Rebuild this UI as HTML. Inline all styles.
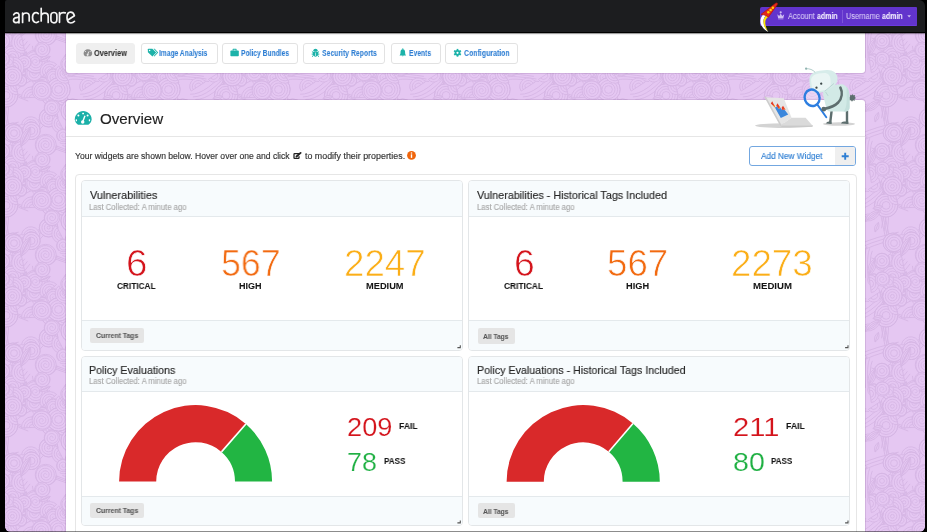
<!DOCTYPE html>
<html><head><meta charset="utf-8"><title>Anchore Overview</title>
<style>
*{margin:0;padding:0;box-sizing:border-box}
html,body{width:927px;height:532px;overflow:hidden;background:#000}
body{position:relative;font-family:"Liberation Sans",sans-serif}
.abs{position:absolute}
.screen{position:absolute;left:5px;top:20px;width:920px;height:512px;border-radius:6px;overflow:hidden;background:#e3c5ef}
.nav{position:absolute;left:5px;top:0;width:920px;height:33.2px;background:#1c1d1f;border-radius:2px 6px 0 0;border-bottom:1.4px solid #000;box-shadow:0 1px 1.2px rgba(0,0,0,.45)}
.panel{position:absolute;background:#fff;box-shadow:0 0 0 1px rgba(120,80,140,.18)}
.btn{position:absolute;top:42.5px;height:21px;border:1px solid #e2e2e2;border-radius:3px;background:#fff}
.t{position:absolute;white-space:nowrap;transform-origin:0 0;will-change:transform;font-family:"Liberation Sans",sans-serif}
.outer{position:absolute;left:74.5px;top:174.2px;width:782px;height:400px;border:1px solid #e6e6e6;border-radius:4px}
.w{position:absolute;width:382px;height:170.5px;border:1px solid #e3e6e8;border-radius:4px;background:#fff;overflow:hidden}
.w .hd{position:absolute;left:0;top:0;right:0;height:35.5px;background:#f7fbfd;border-bottom:1px solid #e4e9ec}
.w .ft{position:absolute;left:0;bottom:0;right:0;height:29.8px;background:#f7fbfd;border-top:1px solid #e4e9ec}
.tag{position:absolute;height:15.7px;background:#e5e5e5;border-radius:2px}
</style></head><body>
<div class="screen"></div>
<svg class="abs" style="left:5px;top:20px" width="920" height="512"><defs><pattern id="pt" width="110" height="110" patternUnits="userSpaceOnUse"><rect width="110" height="110" fill="#e5c7f2"/><g fill="none" stroke="#d6b5e4" stroke-width="0.9"><path d="M18.1,75.9 Q-2.6,70.8 -6.3,48.1"/><path d="M128.1,75.9 Q107.4,70.8 103.7,48.1"/><path d="M20.7,78.5 Q-0.0,73.4 -3.7,50.7"/><path d="M130.7,78.5 Q110.0,73.4 106.3,50.7"/><path d="M23.3,81.1 Q2.6,76.0 -1.1,53.3"/><path d="M133.3,81.1 Q112.6,76.0 108.9,53.3"/><path d="M88.9,56.4 Q58.5,52.0 58.0,55.4"/><path d="M91.5,59.0 Q61.1,54.6 60.6,58.0"/><path d="M94.1,61.6 Q63.7,57.2 63.2,60.6"/><path d="M64.4,7.6 Q60.6,-20.9 72.8,-22.0"/><path d="M64.4,117.6 Q60.6,89.1 72.8,88.0"/><path d="M67.0,10.2 Q63.2,-18.3 75.4,-19.4"/><path d="M67.0,120.2 Q63.2,91.7 75.4,90.6"/><path d="M69.6,12.8 Q65.8,-15.7 78.0,-16.8"/><path d="M69.6,122.8 Q65.8,94.3 78.0,93.2"/><path d="M-0.3,81.3 Q0.0,61.8 28.3,52.7"/><path d="M109.7,81.3 Q110.0,61.8 138.3,52.7"/><path d="M2.3,83.9 Q2.6,64.4 30.9,55.3"/><path d="M4.9,86.5 Q5.2,67.0 33.5,57.9"/><path d="M54.7,12.7 Q60.7,17.2 87.4,2.6"/><path d="M57.3,15.3 Q63.3,19.8 90.0,5.2"/><path d="M59.9,17.9 Q65.9,22.4 92.6,7.8"/><path d="M13.7,-7.9 Q-9.5,-2.8 -23.4,3.3"/><path d="M13.7,102.1 Q-9.5,107.2 -23.4,113.3"/><path d="M123.7,-7.9 Q100.5,-2.8 86.6,3.3"/><path d="M123.7,102.1 Q100.5,107.2 86.6,113.3"/><path d="M16.3,-5.3 Q-6.9,-0.2 -20.8,5.9"/><path d="M16.3,104.7 Q-6.9,109.8 -20.8,115.9"/><path d="M126.3,-5.3 Q103.1,-0.2 89.2,5.9"/><path d="M126.3,104.7 Q103.1,109.8 89.2,115.9"/><path d="M18.9,-2.7 Q-4.3,2.4 -18.2,8.5"/><path d="M18.9,107.3 Q-4.3,112.4 -18.2,118.5"/><path d="M128.9,-2.7 Q105.7,2.4 91.8,8.5"/><path d="M128.9,107.3 Q105.7,112.4 91.8,118.5"/><path d="M20.6,4.1 Q39.2,-16.2 41.1,-19.0"/><path d="M20.6,114.1 Q39.2,93.8 41.1,91.0"/><path d="M23.2,6.7 Q41.8,-13.6 43.7,-16.4"/><path d="M23.2,116.7 Q41.8,96.4 43.7,93.6"/><path d="M25.8,9.3 Q44.4,-11.0 46.3,-13.8"/><path d="M25.8,119.3 Q44.4,99.0 46.3,96.2"/><path d="M-3.4,98.3 Q-0.3,83.2 -2.1,54.3"/><path d="M106.6,98.3 Q109.7,83.2 107.9,54.3"/><path d="M-0.8,100.9 Q2.3,85.8 0.5,56.9"/><path d="M109.2,100.9 Q112.3,85.8 110.5,56.9"/><path d="M1.8,103.5 Q4.9,88.4 3.1,59.5"/><path d="M13.5,52.4 Q33.2,50.7 27.4,25.8"/><path d="M16.1,55.0 Q35.8,53.3 30.0,28.4"/><path d="M18.7,57.6 Q38.4,55.9 32.6,31.0"/><path d="M45.1,40.2 Q43.4,42.0 12.0,50.6"/><path d="M47.7,42.8 Q46.0,44.6 14.6,53.2"/><path d="M50.3,45.4 Q48.6,47.2 17.2,55.8"/><path d="M3.0,10.3 Q-2.1,-14.4 -7.0,-38.6"/><path d="M3.0,120.3 Q-2.1,95.6 -7.0,71.4"/><path d="M113.0,10.3 Q107.9,-14.4 103.0,-38.6"/><path d="M113.0,120.3 Q107.9,95.6 103.0,71.4"/><path d="M5.6,12.9 Q0.5,-11.8 -4.4,-36.0"/><path d="M5.6,122.9 Q0.5,98.2 -4.4,74.0"/><path d="M115.6,12.9 Q110.5,-11.8 105.6,-36.0"/><path d="M115.6,122.9 Q110.5,98.2 105.6,74.0"/><path d="M8.2,15.5 Q3.1,-9.2 -1.8,-33.4"/><path d="M8.2,125.5 Q3.1,100.8 -1.8,76.6"/><path d="M118.2,15.5 Q113.1,-9.2 108.2,-33.4"/><path d="M118.2,125.5 Q113.1,100.8 108.2,76.6"/><path d="M60.5,-27.7 Q65.8,-4.2 67.6,11.9"/><path d="M60.5,82.3 Q65.8,105.8 67.6,121.9"/><path d="M63.1,-25.1 Q68.4,-1.6 70.2,14.5"/><path d="M63.1,84.9 Q68.4,108.4 70.2,124.5"/><path d="M65.7,-22.5 Q71.0,1.0 72.8,17.1"/><path d="M65.7,87.5 Q71.0,111.0 72.8,127.1"/><path d="M19.9,18.7 Q1.3,41.3 -8.0,58.0"/><path d="M129.9,18.7 Q111.3,41.3 102.0,58.0"/><path d="M22.5,21.3 Q3.9,43.9 -5.4,60.6"/><path d="M132.5,21.3 Q113.9,43.9 104.6,60.6"/><path d="M25.1,23.9 Q6.5,46.5 -2.8,63.2"/><path d="M135.1,23.9 Q116.5,46.5 107.2,63.2"/><path d="M33.7,11.4 Q62.8,16.7 75.3,29.5"/><path d="M36.3,14.0 Q65.4,19.3 77.9,32.1"/><path d="M38.9,16.6 Q68.0,21.9 80.5,34.7"/><path d="M-34.8,74.3 Q-17.9,74.5 4.5,45.2"/><path d="M75.2,74.3 Q92.1,74.5 114.5,45.2"/><path d="M-32.2,76.9 Q-15.3,77.1 7.1,47.8"/><path d="M77.8,76.9 Q94.7,77.1 117.1,47.8"/><path d="M-29.6,79.5 Q-12.7,79.7 9.7,50.4"/><path d="M80.4,79.5 Q97.3,79.7 119.7,50.4"/><path d="M-4.2,65.0 Q5.9,44.9 23.4,40.0"/><path d="M105.8,65.0 Q115.9,44.9 133.4,40.0"/><path d="M-1.6,67.6 Q8.5,47.5 26.0,42.6"/><path d="M108.4,67.6 Q118.5,47.5 136.0,42.6"/><path d="M1.0,70.2 Q11.1,50.1 28.6,45.2"/><path d="M111.0,70.2 Q121.1,50.1 138.6,45.2"/><path d="M-13.6,17.9 Q15.1,26.9 27.3,36.9"/><path d="M96.4,17.9 Q125.1,26.9 137.3,36.9"/><path d="M-11.0,20.5 Q17.7,29.5 29.9,39.5"/><path d="M99.0,20.5 Q127.7,29.5 139.9,39.5"/><path d="M-8.4,23.1 Q20.3,32.1 32.5,42.1"/><path d="M101.6,23.1 Q130.3,32.1 142.5,42.1"/><path d="M92.1,5.7 Q88.8,12.0 90.5,37.9"/><path d="M94.7,8.3 Q91.4,14.6 93.1,40.5"/><path d="M97.3,10.9 Q94.0,17.2 95.7,43.1"/><circle cx="7.6" cy="37.2" r="11.3" fill="#e5c7f2"/><circle cx="7.6" cy="37.2" r="11.3"/><circle cx="7.6" cy="37.2" r="8.7"/><circle cx="7.6" cy="37.2" r="6.1"/><circle cx="7.6" cy="37.2" r="3.5"/><circle cx="117.6" cy="37.2" r="11.3" fill="#e5c7f2"/><circle cx="117.6" cy="37.2" r="11.3"/><circle cx="117.6" cy="37.2" r="8.7"/><circle cx="117.6" cy="37.2" r="6.1"/><circle cx="117.6" cy="37.2" r="3.5"/><path fill="#e5c7f2" d="M75.3,52.9 A6.8,6.8 0 0 1 88.8,52.5 Z"/><path d="M77.9,52.8 A4.2,4.2 0 0 1 86.2,52.6"/><path d="M80.5,52.7 A1.6,1.6 0 0 1 83.6,52.6"/><circle cx="57.8" cy="80.1" r="5.2" fill="#e5c7f2"/><circle cx="57.8" cy="80.1" r="5.2"/><circle cx="57.8" cy="80.1" r="2.6"/><circle cx="98.9" cy="40.2" r="6.1" fill="#e5c7f2"/><path d="M96.1,34.2 L97.8,33.8 L99.5,33.8 L101.1,34.3 L102.5,35.1 L103.6,36.3 L104.4,37.7 L104.8,39.2 L104.7,40.7 L104.3,42.2 L103.5,43.4 L102.5,44.4 L101.2,45.1 L99.9,45.4 L98.5,45.4 L97.2,45.0 L96.1,44.3 L95.2,43.3 L94.7,42.2 L94.4,41.0 L94.4,39.8 L94.8,38.7 L95.4,37.8 L96.2,37.0 L97.2,36.5 L98.2,36.3 L99.3,36.4 L100.2,36.7 L101.0,37.2 L101.6,38.0 L102.0,38.8 L102.2,39.7 L102.1,40.5 L101.8,41.3 L101.4,41.9 L100.8,42.4 L100.1,42.7 L99.4,42.9 L98.7,42.8 L98.1,42.5 L97.6,42.1 L97.2,41.7 L97.0,41.1 L97.0,40.6 L97.0,40.1 L97.3,39.6 L97.6,39.3 L97.9,39.0 L98.3,38.9 L98.7,38.9 L99.0,39.0 L99.3,39.2 L99.5,39.4 L99.6,39.6 L99.7,39.9 L99.6,40.1 L99.5,40.3"/><circle cx="66.1" cy="46.9" r="9.1" fill="#e5c7f2"/><path d="M60.6,38.9 L62.9,37.9 L65.3,37.5 L67.8,37.7 L70.1,38.5 L72.0,39.9 L73.5,41.7 L74.5,43.8 L74.9,46.1 L74.7,48.4 L73.9,50.5 L72.6,52.3 L70.9,53.7 L69.0,54.6 L66.9,55.0 L64.8,54.8 L62.8,54.0 L61.1,52.9 L59.8,51.3 L59.0,49.5 L58.7,47.5 L58.9,45.6 L59.6,43.8 L60.7,42.3 L62.1,41.1 L63.8,40.3 L65.6,40.1 L67.3,40.3 L68.9,40.9 L70.3,41.9 L71.4,43.2 L72.1,44.7 L72.3,46.3 L72.1,47.9 L71.5,49.4 L70.6,50.6 L69.4,51.6 L68.1,52.2 L66.6,52.4 L65.2,52.2 L63.9,51.7 L62.8,50.8 L62.0,49.8 L61.5,48.6 L61.3,47.3 L61.5,46.0 L61.9,44.9 L62.7,44.0 L63.6,43.2 L64.7,42.8 L65.8,42.7 L66.9,42.8 L67.8,43.3 L68.6,43.9 L69.2,44.7 L69.6,45.6 L69.7,46.6 L69.5,47.5 L69.2,48.3 L68.6,48.9 L67.9,49.4 L67.2,49.7 L66.4,49.8 L65.7,49.6 L65.0,49.3 L64.5,48.8 L64.1,48.3 L63.9,47.7 L63.9,47.1 L64.1,46.5 L64.3,46.0 L64.7,45.6 L65.1,45.4 L65.6,45.3 L66.0,45.3 L66.4,45.4 L66.7,45.6 L67.0,45.9 L67.1,46.2 L67.1,46.5 L67.1,46.8 L67.0,47.0 L66.8,47.2 L66.6,47.3"/><path fill="#e5c7f2" d="M37.7,64.6 A6.9,6.9 0 0 1 30.1,53.0 Z"/><path d="M36.2,62.4 A4.3,4.3 0 0 1 31.5,55.1"/><path d="M34.8,60.2 A1.7,1.7 0 0 1 32.9,57.3"/><circle cx="1.1" cy="75.4" r="11.7" fill="#e5c7f2"/><circle cx="1.1" cy="75.4" r="11.7"/><circle cx="1.1" cy="75.4" r="9.1"/><circle cx="1.1" cy="75.4" r="6.5"/><circle cx="1.1" cy="75.4" r="3.9"/><circle cx="111.1" cy="75.4" r="11.7" fill="#e5c7f2"/><circle cx="111.1" cy="75.4" r="11.7"/><circle cx="111.1" cy="75.4" r="9.1"/><circle cx="111.1" cy="75.4" r="6.5"/><circle cx="111.1" cy="75.4" r="3.9"/><path fill="#e5c7f2" d="M22.7,33.7 Q30.8,31.0 35.5,38.0 Q27.4,40.8 22.7,33.7 Z"/><path fill="none" d="M24.8,34.4 Q29.6,34.4 33.4,37.3 Q28.6,37.4 24.8,34.4 Z"/><path d="M22.7,33.7 L35.5,38.0"/><circle cx="46.3" cy="75.1" r="10.3" fill="#e5c7f2"/><circle cx="46.3" cy="75.1" r="10.3"/><circle cx="46.3" cy="75.1" r="7.7"/><circle cx="46.3" cy="75.1" r="5.1"/><circle cx="46.3" cy="75.1" r="2.5"/><circle cx="14.7" cy="10.4" r="5.7" fill="#e5c7f2"/><circle cx="14.7" cy="10.4" r="5.7"/><circle cx="14.7" cy="10.4" r="3.1"/><circle cx="70.6" cy="86.5" r="5.5" fill="#e5c7f2"/><circle cx="70.6" cy="86.5" r="5.5"/><circle cx="70.6" cy="86.5" r="2.9"/><circle cx="72.1" cy="13.9" r="8.8" fill="#e5c7f2"/><path d="M80.6,9.9 L81.2,12.3 L81.2,14.7 L80.6,17.0 L79.4,19.0 L77.8,20.7 L75.8,21.8 L73.6,22.4 L71.4,22.4 L69.2,21.8 L67.3,20.7 L65.8,19.2 L64.8,17.3 L64.3,15.3 L64.3,13.2 L64.8,11.3 L65.8,9.6 L67.3,8.2 L69.0,7.2 L70.8,6.7 L72.7,6.8 L74.5,7.3 L76.1,8.2 L77.3,9.5 L78.2,11.1 L78.6,12.8 L78.6,14.5 L78.1,16.1 L77.3,17.5 L76.1,18.7 L74.7,19.4 L73.1,19.8 L71.6,19.8 L70.1,19.3 L68.9,18.5 L67.9,17.5 L67.2,16.2 L66.9,14.8 L66.9,13.5 L67.3,12.2 L68.0,11.1 L68.9,10.2 L70.1,9.6 L71.3,9.3 L72.5,9.4 L73.6,9.7 L74.6,10.4 L75.3,11.2 L75.8,12.2 L76.0,13.2 L76.0,14.3 L75.6,15.2 L75.1,16.0 L74.4,16.6 L73.5,17.0 L72.7,17.2 L71.8,17.1 L71.0,16.9 L70.4,16.4 L69.9,15.8 L69.6,15.1 L69.4,14.4 L69.5,13.7 L69.8,13.1 L70.2,12.6 L70.6,12.2 L71.2,12.0 L71.7,11.9 L72.3,12.0 L72.7,12.2 L73.1,12.5 L73.3,12.9 L73.4,13.3 L73.4,13.7 L73.3,14.0 L73.2,14.3 L72.9,14.5 L72.7,14.6 L72.4,14.7 L72.2,14.6 L72.0,14.5"/><circle cx="43.6" cy="97.7" r="9.3" fill="#e5c7f2"/><circle cx="43.6" cy="97.7" r="9.3"/><circle cx="43.6" cy="97.7" r="6.7"/><circle cx="43.6" cy="97.7" r="4.1"/><circle cx="43.6" cy="97.7" r="1.5"/><path fill="#e5c7f2" d="M21.4,31.7 Q27.9,42.5 19.0,51.5 Q12.6,40.6 21.4,31.7 Z"/><path fill="none" d="M21.2,33.8 Q24.2,42.0 19.3,49.3 Q16.2,41.1 21.2,33.8 Z"/><path d="M21.4,31.7 L19.0,51.5"/><path fill="#e5c7f2" d="M76.1,71.1 A8.5,8.5 0 0 1 90.4,61.8 Z"/><path d="M78.3,69.7 A5.9,5.9 0 0 1 88.3,63.2"/><path d="M80.5,68.2 A3.3,3.3 0 0 1 86.1,64.6"/><circle cx="85.2" cy="87.0" r="5.1" fill="#e5c7f2"/><path d="M83.1,81.7 L84.5,81.5 L86.0,81.6 L87.3,82.1 L88.4,82.9 L89.3,83.9 L89.8,85.2 L90.0,86.4 L89.9,87.7 L89.4,88.8 L88.7,89.8 L87.8,90.6 L86.8,91.0 L85.6,91.2 L84.6,91.1 L83.6,90.7 L82.7,90.0 L82.1,89.2 L81.7,88.3 L81.6,87.4 L81.7,86.5 L82.1,85.6 L82.6,85.0 L83.3,84.5 L84.1,84.2 L84.8,84.1 L85.6,84.2 L86.2,84.5 L86.8,85.0 L87.2,85.5 L87.4,86.1 L87.4,86.7 L87.3,87.3 L87.0,87.8 L86.7,88.2 L86.2,88.4 L85.8,88.6 L85.3,88.6 L84.9,88.4 L84.6,88.2 L84.4,88.0 L84.2,87.7 L84.2,87.4 L84.2,87.1 L84.4,86.9 L84.5,86.7 L84.7,86.6"/><path fill="#e5c7f2" d="M93.8,34.9 A9.0,9.0 0 0 1 96.3,52.7 Z"/><path d="M94.2,37.5 A6.4,6.4 0 0 1 96.0,50.1"/><path d="M94.6,40.0 A3.8,3.8 0 0 1 95.6,47.5"/><path fill="#e5c7f2" d="M16.5,-5.4 A9.2,9.2 0 0 1 34.8,-2.5 Z"/><path d="M19.1,-5.0 A6.6,6.6 0 0 1 32.2,-2.9"/><path d="M21.7,-4.6 A4.0,4.0 0 0 1 29.7,-3.3"/><path fill="#e5c7f2" d="M16.5,104.6 A9.2,9.2 0 0 1 34.8,107.5 Z"/><path d="M19.1,105.0 A6.6,6.6 0 0 1 32.2,107.1"/><path d="M21.7,105.4 A4.0,4.0 0 0 1 29.7,106.7"/><circle cx="4.6" cy="42.8" r="7.2" fill="#e5c7f2"/><path d="M11.5,46.4 L10.2,48.0 L8.6,49.2 L6.8,49.9 L4.8,50.1 L3.0,49.8 L1.3,49.0 L-0.2,47.9 L-1.3,46.4 L-1.9,44.7 L-2.1,43.0 L-1.8,41.3 L-1.1,39.7 L-0.0,38.4 L1.3,37.5 L2.8,36.9 L4.4,36.8 L6.0,37.0 L7.4,37.7 L8.5,38.6 L9.4,39.8 L9.9,41.2 L10.0,42.6 L9.7,44.0 L9.2,45.2 L8.3,46.2 L7.2,47.0 L6.0,47.4 L4.8,47.5 L3.6,47.3 L2.5,46.8 L1.6,46.0 L1.0,45.0 L0.6,44.0 L0.5,42.9 L0.7,41.9 L1.2,41.0 L1.9,40.2 L2.7,39.7 L3.6,39.4 L4.5,39.4 L5.4,39.5 L6.1,39.9 L6.7,40.5 L7.1,41.2 L7.4,41.9 L7.4,42.7 L7.2,43.4 L6.9,44.0 L6.4,44.4 L5.8,44.8 L5.3,44.9 L4.7,44.9 L4.2,44.7 L3.7,44.5 L3.4,44.1 L3.2,43.7 L3.1,43.2 L3.1,42.8 L3.3,42.5 L3.5,42.2 L3.8,42.0 L4.1,41.9 L4.3,41.9 L4.6,42.0 L4.8,42.1 L4.9,42.2"/><circle cx="114.6" cy="42.8" r="7.2" fill="#e5c7f2"/><path d="M121.5,46.4 L120.2,48.0 L118.6,49.2 L116.8,49.9 L114.8,50.1 L113.0,49.8 L111.3,49.0 L109.8,47.9 L108.7,46.4 L108.1,44.7 L107.9,43.0 L108.2,41.3 L108.9,39.7 L110.0,38.4 L111.3,37.5 L112.8,36.9 L114.4,36.8 L116.0,37.0 L117.4,37.7 L118.5,38.6 L119.4,39.8 L119.9,41.2 L120.0,42.6 L119.7,44.0 L119.2,45.2 L118.3,46.2 L117.2,47.0 L116.0,47.4 L114.8,47.5 L113.6,47.3 L112.5,46.8 L111.6,46.0 L111.0,45.0 L110.6,44.0 L110.5,42.9 L110.7,41.9 L111.2,41.0 L111.9,40.2 L112.7,39.7 L113.6,39.4 L114.5,39.4 L115.4,39.5 L116.1,39.9 L116.7,40.5 L117.1,41.2 L117.4,41.9 L117.4,42.7 L117.2,43.4 L116.9,44.0 L116.4,44.4 L115.8,44.8 L115.3,44.9 L114.7,44.9 L114.2,44.7 L113.7,44.5 L113.4,44.1 L113.2,43.7 L113.1,43.2 L113.1,42.8 L113.3,42.5 L113.5,42.2 L113.8,42.0 L114.1,41.9 L114.3,41.9 L114.6,42.0 L114.8,42.1 L114.9,42.2"/><path fill="#e5c7f2" d="M97.2,84.0 Q93.3,93.9 82.7,92.7 Q86.6,82.8 97.2,84.0 Z"/><path fill="none" d="M95.3,85.1 Q91.4,90.8 84.6,91.6 Q88.5,85.9 95.3,85.1 Z"/><path d="M97.2,84.0 L82.7,92.7"/><path fill="#e5c7f2" d="M12.8,74.5 A8.6,8.6 0 0 1 8.9,57.8 Z"/><path d="M12.2,71.9 A6.0,6.0 0 0 1 9.5,60.3"/><path d="M11.6,69.4 A3.4,3.4 0 0 1 10.1,62.9"/><path fill="#e5c7f2" d="M28.6,56.0 Q36.3,51.5 42.6,57.7 Q34.9,62.2 28.6,56.0 Z"/><path fill="none" d="M30.8,56.2 Q35.9,55.1 40.4,57.5 Q35.4,58.6 30.8,56.2 Z"/><path d="M28.6,56.0 L42.6,57.7"/><circle cx="57.8" cy="61.7" r="5.4" fill="#e5c7f2"/><path d="M54.2,66.5 L53.2,65.3 L52.5,64.0 L52.2,62.5 L52.3,61.0 L52.7,59.6 L53.5,58.4 L54.6,57.5 L55.8,56.9 L57.1,56.7 L58.4,56.8 L59.6,57.2 L60.7,57.9 L61.5,58.8 L62.0,59.9 L62.2,61.0 L62.1,62.2 L61.7,63.2 L61.1,64.1 L60.3,64.8 L59.4,65.2 L58.4,65.4 L57.4,65.3 L56.5,65.0 L55.8,64.4 L55.2,63.7 L54.9,62.9 L54.8,62.1 L54.9,61.3 L55.2,60.6 L55.6,60.0 L56.2,59.6 L56.8,59.3 L57.5,59.2 L58.1,59.3 L58.7,59.6 L59.1,60.0 L59.4,60.4 L59.6,60.9 L59.6,61.4 L59.5,61.9 L59.3,62.3 L59.0,62.6 L58.7,62.7 L58.3,62.8 L58.0,62.8 L57.7,62.7 L57.5,62.5 L57.3,62.3 L57.3,62.1 L57.3,61.9"/><circle cx="-2.5" cy="39.1" r="7.2" fill="#e5c7f2"/><path d="M-10.2,37.5 L-9.4,35.6 L-8.2,34.0 L-6.7,32.8 L-4.9,32.1 L-3.0,31.8 L-1.1,32.1 L0.6,32.8 L2.1,33.9 L3.2,35.3 L3.8,37.0 L4.1,38.7 L3.8,40.4 L3.2,41.9 L2.2,43.3 L0.9,44.2 L-0.6,44.8 L-2.2,45.0 L-3.7,44.8 L-5.1,44.2 L-6.3,43.3 L-7.2,42.1 L-7.7,40.8 L-7.8,39.4 L-7.6,38.0 L-7.1,36.8 L-6.3,35.8 L-5.2,35.0 L-4.0,34.6 L-2.8,34.4 L-1.6,34.6 L-0.6,35.1 L0.3,35.8 L1.0,36.8 L1.3,37.8 L1.4,38.8 L1.3,39.9 L0.8,40.8 L0.2,41.5 L-0.6,42.0 L-1.5,42.3 L-2.4,42.4 L-3.2,42.2 L-3.9,41.9 L-4.5,41.3 L-5.0,40.7 L-5.2,40.0 L-5.2,39.2 L-5.1,38.6 L-4.7,38.0 L-4.3,37.5 L-3.8,37.2 L-3.2,37.1 L-2.7,37.1 L-2.2,37.2 L-1.7,37.5 L-1.4,37.8 L-1.2,38.2 L-1.1,38.6 L-1.2,39.0 L-1.3,39.3 L-1.5,39.6 L-1.8,39.8 L-2.0,39.9 L-2.3,39.9 L-2.5,39.8 L-2.7,39.7"/><circle cx="107.5" cy="39.1" r="7.2" fill="#e5c7f2"/><path d="M99.8,37.5 L100.6,35.6 L101.8,34.0 L103.3,32.8 L105.1,32.1 L107.0,31.8 L108.9,32.1 L110.6,32.8 L112.1,33.9 L113.2,35.3 L113.8,37.0 L114.1,38.7 L113.8,40.4 L113.2,41.9 L112.2,43.3 L110.9,44.2 L109.4,44.8 L107.8,45.0 L106.3,44.8 L104.9,44.2 L103.7,43.3 L102.8,42.1 L102.3,40.8 L102.2,39.4 L102.4,38.0 L102.9,36.8 L103.7,35.8 L104.8,35.0 L106.0,34.6 L107.2,34.4 L108.4,34.6 L109.4,35.1 L110.3,35.8 L111.0,36.8 L111.3,37.8 L111.4,38.8 L111.3,39.9 L110.8,40.8 L110.2,41.5 L109.4,42.0 L108.5,42.3 L107.6,42.4 L106.8,42.2 L106.1,41.9 L105.5,41.3 L105.0,40.7 L104.8,40.0 L104.8,39.2 L104.9,38.6 L105.3,38.0 L105.7,37.5 L106.2,37.2 L106.8,37.1 L107.3,37.1 L107.8,37.2 L108.3,37.5 L108.6,37.8 L108.8,38.2 L108.9,38.6 L108.8,39.0 L108.7,39.3 L108.5,39.6 L108.2,39.8 L108.0,39.9 L107.7,39.9 L107.5,39.8 L107.3,39.7"/><circle cx="11.8" cy="8.4" r="5.5" fill="#e5c7f2"/><path d="M7.6,4.0 L8.9,3.1 L10.4,2.7 L11.9,2.6 L13.4,2.9 L14.7,3.6 L15.8,4.6 L16.5,5.8 L16.9,7.1 L17.0,8.5 L16.7,9.8 L16.0,10.9 L15.2,11.8 L14.1,12.5 L12.9,12.8 L11.8,12.8 L10.6,12.6 L9.7,12.0 L8.9,11.2 L8.3,10.3 L8.0,9.3 L8.0,8.3 L8.3,7.4 L8.8,6.5 L9.4,5.9 L10.2,5.4 L11.1,5.2 L11.9,5.2 L12.7,5.5 L13.3,5.9 L13.9,6.4 L14.2,7.1 L14.3,7.7 L14.3,8.4 L14.1,9.0 L13.8,9.5 L13.3,9.9 L12.8,10.2 L12.3,10.2 L11.8,10.2 L11.4,10.0 L11.0,9.7 L10.8,9.4 L10.6,9.0 L10.6,8.7 L10.7,8.4 L10.8,8.1 L11.0,7.9 L11.3,7.8 L11.5,7.8 L11.7,7.8"/><path fill="#e5c7f2" d="M60.0,2.8 A9.8,9.8 0 0 1 51.1,-14.5 Z"/><path d="M58.8,0.5 A7.2,7.2 0 0 1 52.3,-12.2"/><path d="M57.6,-1.8 A4.6,4.6 0 0 1 53.5,-9.9"/><path d="M56.5,-4.1 A2.0,2.0 0 0 1 54.7,-7.6"/><path fill="#e5c7f2" d="M60.0,112.8 A9.8,9.8 0 0 1 51.1,95.5 Z"/><path d="M58.8,110.5 A7.2,7.2 0 0 1 52.3,97.8"/><path d="M57.6,108.2 A4.6,4.6 0 0 1 53.5,100.1"/><path d="M56.5,105.9 A2.0,2.0 0 0 1 54.7,102.4"/><circle cx="48.7" cy="56.9" r="7.7" fill="#e5c7f2"/><path d="M46.6,48.9 L48.7,48.7 L50.8,49.1 L52.7,50.0 L54.3,51.4 L55.5,53.1 L56.1,55.0 L56.3,57.0 L55.9,58.9 L55.0,60.6 L53.8,62.1 L52.2,63.1 L50.5,63.7 L48.6,63.8 L46.9,63.5 L45.3,62.7 L44.0,61.5 L43.1,60.1 L42.5,58.5 L42.4,56.9 L42.8,55.3 L43.5,53.9 L44.5,52.7 L45.8,51.9 L47.2,51.4 L48.7,51.3 L50.1,51.6 L51.4,52.3 L52.4,53.2 L53.2,54.4 L53.6,55.6 L53.6,56.9 L53.4,58.2 L52.8,59.3 L51.9,60.2 L50.9,60.8 L49.8,61.2 L48.7,61.2 L47.6,61.0 L46.6,60.4 L45.9,59.7 L45.3,58.8 L45.1,57.9 L45.0,56.9 L45.3,56.0 L45.7,55.2 L46.4,54.6 L47.1,54.1 L47.9,53.9 L48.7,53.9 L49.5,54.1 L50.1,54.5 L50.6,55.0 L50.9,55.7 L51.1,56.3 L51.0,56.9 L50.8,57.5 L50.5,58.0 L50.1,58.3 L49.6,58.6 L49.1,58.7 L48.7,58.6 L48.3,58.4 L47.9,58.2 L47.7,57.9 L47.6,57.5 L47.6,57.2 L47.7,56.9 L47.8,56.7 L48.0,56.5 L48.2,56.4 L48.4,56.4"/><circle cx="7.7" cy="2.7" r="9.6" fill="#e5c7f2"/><circle cx="7.7" cy="2.7" r="9.6"/><circle cx="7.7" cy="2.7" r="7.0"/><circle cx="7.7" cy="2.7" r="4.4"/><circle cx="7.7" cy="2.7" r="1.8"/><circle cx="7.7" cy="112.7" r="9.6" fill="#e5c7f2"/><circle cx="7.7" cy="112.7" r="9.6"/><circle cx="7.7" cy="112.7" r="7.0"/><circle cx="7.7" cy="112.7" r="4.4"/><circle cx="7.7" cy="112.7" r="1.8"/><circle cx="117.7" cy="2.7" r="9.6" fill="#e5c7f2"/><circle cx="117.7" cy="2.7" r="9.6"/><circle cx="117.7" cy="2.7" r="7.0"/><circle cx="117.7" cy="2.7" r="4.4"/><circle cx="117.7" cy="2.7" r="1.8"/><circle cx="117.7" cy="112.7" r="9.6" fill="#e5c7f2"/><circle cx="117.7" cy="112.7" r="9.6"/><circle cx="117.7" cy="112.7" r="7.0"/><circle cx="117.7" cy="112.7" r="4.4"/><circle cx="117.7" cy="112.7" r="1.8"/><path fill="#e5c7f2" d="M16.5,77.9 A10.7,10.7 0 0 1 37.9,77.0 Z"/><path d="M19.1,77.8 A8.1,8.1 0 0 1 35.3,77.1"/><path d="M21.7,77.7 A5.5,5.5 0 0 1 32.7,77.2"/><path d="M24.3,77.6 A2.9,2.9 0 0 1 30.1,77.3"/><circle cx="47.0" cy="87.7" r="7.8" fill="#e5c7f2"/><path d="M51.4,94.9 L49.4,95.7 L47.2,95.9 L45.1,95.6 L43.2,94.7 L41.6,93.4 L40.4,91.8 L39.7,89.9 L39.5,88.0 L39.8,86.0 L40.6,84.3 L41.7,82.8 L43.3,81.7 L45.0,81.1 L46.8,80.9 L48.5,81.2 L50.1,81.9 L51.5,83.0 L52.4,84.4 L53.0,85.9 L53.2,87.6 L52.9,89.1 L52.2,90.6 L51.2,91.8 L50.0,92.6 L48.6,93.1 L47.1,93.3 L45.7,93.0 L44.5,92.4 L43.4,91.5 L42.6,90.4 L42.2,89.2 L42.1,87.9 L42.3,86.6 L42.9,85.5 L43.7,84.6 L44.6,84.0 L45.7,83.6 L46.8,83.5 L47.9,83.7 L48.9,84.2 L49.6,84.9 L50.2,85.7 L50.5,86.7 L50.5,87.6 L50.3,88.5 L49.9,89.3 L49.3,90.0 L48.6,90.4 L47.8,90.6 L47.1,90.6 L46.3,90.5 L45.7,90.1 L45.2,89.6 L44.9,89.0 L44.7,88.4 L44.7,87.8 L44.9,87.2 L45.2,86.8 L45.6,86.4 L46.0,86.2 L46.5,86.1 L46.9,86.2 L47.3,86.3 L47.6,86.5 L47.8,86.8 L48.0,87.1 L48.0,87.4 L47.9,87.7 L47.8,87.9 L47.6,88.1 L47.4,88.1"/><circle cx="53.5" cy="69.5" r="11.7" fill="#e5c7f2"/><circle cx="53.5" cy="69.5" r="11.7"/><circle cx="53.5" cy="69.5" r="9.1"/><circle cx="53.5" cy="69.5" r="6.5"/><circle cx="53.5" cy="69.5" r="3.9"/><path fill="#e5c7f2" d="M10.9,15.6 Q6.8,24.2 -2.7,22.4 Q1.5,13.8 10.9,15.6 Z"/><path fill="none" d="M8.9,16.6 Q5.1,21.0 -0.7,21.5 Q3.1,17.0 8.9,16.6 Z"/><path d="M10.9,15.6 L-2.7,22.4"/><path fill="#e5c7f2" d="M120.9,15.6 Q116.8,24.2 107.3,22.4 Q111.5,13.8 120.9,15.6 Z"/><path fill="none" d="M118.9,16.6 Q115.1,21.0 109.3,21.5 Q113.1,17.0 118.9,16.6 Z"/><path d="M120.9,15.6 L107.3,22.4"/><path fill="#e5c7f2" d="M105.7,80.4 Q102.1,91.7 90.2,91.1 Q93.8,79.8 105.7,80.4 Z"/><path fill="none" d="M103.9,81.6 Q100.0,88.7 92.1,89.8 Q95.9,82.8 103.9,81.6 Z"/><path d="M105.7,80.4 L90.2,91.1"/><path fill="#e5c7f2" d="M81.7,89.0 A9.9,9.9 0 0 1 65.3,100.0 Z"/><path d="M79.6,90.4 A7.3,7.3 0 0 1 67.4,98.5"/><path d="M77.4,91.9 A4.7,4.7 0 0 1 69.6,97.1"/><path d="M75.2,93.3 A2.1,2.1 0 0 1 71.7,95.6"/><circle cx="28.8" cy="52.9" r="8.5" fill="#e5c7f2"/><path d="M24.9,44.7 L27.2,44.1 L29.5,44.1 L31.8,44.7 L33.7,45.8 L35.3,47.4 L36.5,49.3 L37.0,51.4 L37.0,53.6 L36.5,55.6 L35.4,57.5 L34.0,58.9 L32.2,60.0 L30.2,60.5 L28.2,60.5 L26.4,60.0 L24.7,59.0 L23.3,57.6 L22.4,56.0 L21.9,54.2 L21.9,52.4 L22.4,50.7 L23.3,49.1 L24.6,47.9 L26.1,47.1 L27.7,46.7 L29.3,46.7 L30.9,47.1 L32.3,48.0 L33.4,49.1 L34.1,50.4 L34.5,51.9 L34.4,53.4 L34.0,54.8 L33.3,56.0 L32.3,56.9 L31.1,57.6 L29.8,57.9 L28.5,57.9 L27.2,57.5 L26.2,56.8 L25.3,55.9 L24.8,54.9 L24.5,53.7 L24.6,52.6 L24.9,51.5 L25.5,50.6 L26.3,49.9 L27.2,49.4 L28.2,49.2 L29.1,49.3 L30.0,49.6 L30.8,50.1 L31.4,50.8 L31.7,51.5 L31.9,52.4 L31.8,53.2 L31.6,53.9 L31.1,54.5 L30.6,55.0 L29.9,55.2 L29.3,55.3 L28.7,55.3 L28.1,55.0 L27.6,54.7 L27.3,54.2 L27.1,53.8 L27.1,53.3 L27.2,52.8 L27.4,52.4 L27.6,52.1 L28.0,51.9 L28.3,51.8 L28.6,51.8 L28.9,51.9 L29.2,52.1 L29.3,52.3 L29.4,52.5 L29.4,52.7"/><circle cx="67.6" cy="90.7" r="11.7" fill="#e5c7f2"/><circle cx="67.6" cy="90.7" r="11.7"/><circle cx="67.6" cy="90.7" r="9.1"/><circle cx="67.6" cy="90.7" r="6.5"/><circle cx="67.6" cy="90.7" r="3.9"/><path fill="#e5c7f2" d="M20.1,33.1 A11.1,11.1 0 0 1 15.5,11.3 Z"/><path d="M19.5,30.6 A8.5,8.5 0 0 1 16.1,13.9"/><path d="M19.0,28.0 A5.9,5.9 0 0 1 16.6,16.4"/><path d="M18.5,25.5 A3.3,3.3 0 0 1 17.1,19.0"/><circle cx="16.0" cy="60.9" r="5.6" fill="#e5c7f2"/><path d="M17.0,54.8 L18.5,55.4 L19.8,56.3 L20.8,57.5 L21.4,58.9 L21.6,60.4 L21.4,61.8 L20.9,63.1 L20.1,64.2 L19.0,65.1 L17.7,65.6 L16.4,65.8 L15.2,65.6 L14.0,65.2 L13.0,64.4 L12.3,63.5 L11.9,62.4 L11.7,61.2 L11.9,60.1 L12.3,59.1 L12.9,58.3 L13.8,57.7 L14.7,57.3 L15.7,57.2 L16.6,57.4 L17.4,57.7 L18.1,58.3 L18.6,59.0 L18.9,59.8 L19.0,60.6 L18.8,61.3 L18.5,62.0 L18.0,62.6 L17.5,63.0 L16.8,63.2 L16.2,63.2 L15.6,63.1 L15.1,62.8 L14.7,62.4 L14.4,62.0 L14.3,61.5 L14.3,61.0 L14.4,60.6 L14.7,60.2 L14.9,60.0 L15.3,59.8 L15.6,59.8 L15.9,59.8 L16.2,59.9 L16.3,60.1 L16.5,60.3 L16.5,60.5"/><circle cx="68.2" cy="41.3" r="10.2" fill="#e5c7f2"/><circle cx="68.2" cy="41.3" r="10.2"/><circle cx="68.2" cy="41.3" r="7.6"/><circle cx="68.2" cy="41.3" r="5.0"/><circle cx="68.2" cy="41.3" r="2.4"/><path fill="#e5c7f2" d="M5.6,13.7 A8.0,8.0 0 0 1 -7.6,22.9 Z"/><path d="M3.4,15.2 A5.4,5.4 0 0 1 -5.5,21.4"/><path d="M1.3,16.7 A2.8,2.8 0 0 1 -3.3,19.9"/><path fill="#e5c7f2" d="M115.6,13.7 A8.0,8.0 0 0 1 102.4,22.9 Z"/><path d="M113.4,15.2 A5.4,5.4 0 0 1 104.5,21.4"/><path d="M111.3,16.7 A2.8,2.8 0 0 1 106.7,19.9"/><circle cx="36.9" cy="70.6" r="9.8" fill="#e5c7f2"/><path d="M26.7,68.4 L27.7,65.9 L29.3,63.8 L31.4,62.2 L33.8,61.1 L36.3,60.8 L38.9,61.1 L41.2,62.0 L43.2,63.5 L44.7,65.4 L45.7,67.7 L46.0,70.1 L45.8,72.4 L44.9,74.6 L43.5,76.5 L41.7,77.9 L39.6,78.8 L37.3,79.1 L35.2,78.8 L33.1,78.0 L31.4,76.7 L30.1,75.0 L29.3,73.1 L29.0,71.0 L29.3,69.0 L30.1,67.1 L31.3,65.5 L32.8,64.3 L34.6,63.6 L36.5,63.4 L38.3,63.6 L40.0,64.3 L41.5,65.4 L42.6,66.9 L43.2,68.5 L43.4,70.2 L43.2,71.9 L42.6,73.4 L41.5,74.7 L40.2,75.7 L38.8,76.3 L37.2,76.5 L35.7,76.3 L34.3,75.7 L33.1,74.7 L32.3,73.6 L31.8,72.2 L31.6,70.9 L31.8,69.5 L32.4,68.3 L33.2,67.3 L34.2,66.5 L35.4,66.1 L36.6,66.0 L37.8,66.2 L38.9,66.6 L39.7,67.4 L40.4,68.3 L40.8,69.3 L40.8,70.4 L40.7,71.4 L40.2,72.3 L39.6,73.0 L38.8,73.5 L37.9,73.8 L37.1,73.9 L36.2,73.7 L35.5,73.3 L34.9,72.8 L34.5,72.1 L34.2,71.4 L34.2,70.7 L34.4,70.0 L34.7,69.5 L35.1,69.0 L35.7,68.7 L36.2,68.6 L36.8,68.6 L37.3,68.7 L37.7,69.0 L38.0,69.3 L38.2,69.7 L38.3,70.1 L38.2,70.5 L38.1,70.8 L37.9,71.1 L37.7,71.3 L37.4,71.3 L37.1,71.4 L36.9,71.3 L36.8,71.2"/><circle cx="9.0" cy="3.1" r="8.6" fill="#e5c7f2"/><circle cx="9.0" cy="3.1" r="8.6"/><circle cx="9.0" cy="3.1" r="6.0"/><circle cx="9.0" cy="3.1" r="3.4"/><circle cx="9.0" cy="113.1" r="8.6" fill="#e5c7f2"/><circle cx="9.0" cy="113.1" r="8.6"/><circle cx="9.0" cy="113.1" r="6.0"/><circle cx="9.0" cy="113.1" r="3.4"/><circle cx="119.0" cy="3.1" r="8.6" fill="#e5c7f2"/><circle cx="119.0" cy="3.1" r="8.6"/><circle cx="119.0" cy="3.1" r="6.0"/><circle cx="119.0" cy="3.1" r="3.4"/><circle cx="119.0" cy="113.1" r="8.6" fill="#e5c7f2"/><circle cx="119.0" cy="113.1" r="8.6"/><circle cx="119.0" cy="113.1" r="6.0"/><circle cx="119.0" cy="113.1" r="3.4"/><path fill="#e5c7f2" d="M104.6,52.1 A6.7,6.7 0 0 1 93.4,59.4 Z"/><path d="M102.4,53.6 A4.1,4.1 0 0 1 95.6,58.0"/><circle cx="30.5" cy="41.7" r="11.6" fill="#e5c7f2"/><path d="M42.5,39.4 L42.6,42.6 L41.8,45.6 L40.3,48.3 L38.2,50.6 L35.6,52.2 L32.7,53.0 L29.7,53.1 L26.8,52.4 L24.2,51.0 L22.1,49.0 L20.6,46.5 L19.8,43.7 L19.8,40.9 L20.4,38.2 L21.8,35.8 L23.7,33.8 L26.0,32.4 L28.6,31.7 L31.2,31.6 L33.8,32.2 L36.1,33.5 L37.9,35.3 L39.2,37.5 L39.9,39.9 L39.9,42.4 L39.3,44.7 L38.2,46.9 L36.5,48.6 L34.5,49.8 L32.2,50.4 L29.9,50.5 L27.7,49.9 L25.7,48.8 L24.1,47.2 L23.0,45.3 L22.4,43.3 L22.4,41.1 L22.9,39.1 L24.0,37.2 L25.4,35.8 L27.1,34.8 L29.1,34.2 L31.0,34.2 L32.9,34.7 L34.6,35.7 L35.9,37.0 L36.9,38.6 L37.3,40.4 L37.3,42.2 L36.9,43.9 L36.0,45.4 L34.8,46.6 L33.3,47.4 L31.7,47.9 L30.1,47.8 L28.5,47.4 L27.2,46.6 L26.1,45.5 L25.4,44.2 L25.0,42.8 L25.0,41.3 L25.4,39.9 L26.1,38.7 L27.1,37.8 L28.3,37.1 L29.6,36.8 L30.9,36.8 L32.1,37.2 L33.1,37.8 L33.9,38.7 L34.5,39.8 L34.8,40.9 L34.7,42.0 L34.4,43.0 L33.8,43.9 L33.1,44.6 L32.2,45.1 L31.2,45.3 L30.3,45.2 L29.4,44.9 L28.6,44.4 L28.1,43.8 L27.7,43.1 L27.6,42.3 L27.6,41.5 L27.9,40.8 L28.3,40.2 L28.8,39.7 L29.4,39.5 L30.1,39.4 L30.7,39.5 L31.2,39.7 L31.6,40.0 L32.0,40.4 L32.1,40.9 L32.2,41.4 L32.1,41.8 L31.9,42.2 L31.6,42.5 L31.3,42.6 L31.0,42.7 L30.7,42.7 L30.4,42.6 L30.2,42.5 L30.1,42.3 L30.1,42.1"/><path fill="#e5c7f2" d="M36.7,56.8 A9.7,9.7 0 0 1 51.6,44.5 Z"/><path d="M38.7,55.2 A7.1,7.1 0 0 1 49.6,46.2"/><path d="M40.7,53.5 A4.5,4.5 0 0 1 47.6,47.8"/><path d="M42.8,51.9 A1.9,1.9 0 0 1 45.6,49.5"/><circle cx="19.2" cy="42.3" r="6.9" fill="#e5c7f2"/><circle cx="19.2" cy="42.3" r="6.9"/><circle cx="19.2" cy="42.3" r="4.3"/><circle cx="19.2" cy="42.3" r="1.7"/><path fill="#e5c7f2" d="M4.2,21.0 A7.5,7.5 0 0 1 -9.7,26.3 Z"/><path d="M1.8,21.9 A4.9,4.9 0 0 1 -7.3,25.4"/><path d="M-0.6,22.9 A2.3,2.3 0 0 1 -4.8,24.5"/><path fill="#e5c7f2" d="M114.2,21.0 A7.5,7.5 0 0 1 100.3,26.3 Z"/><path d="M111.8,21.9 A4.9,4.9 0 0 1 102.7,25.4"/><path d="M109.4,22.9 A2.3,2.3 0 0 1 105.2,24.5"/><path fill="#e5c7f2" d="M107.9,76.5 Q103.6,81.4 97.8,78.5 Q102.0,73.6 107.9,76.5 Z"/><path d="M107.9,76.5 L97.8,78.5"/><circle cx="63.8" cy="43.8" r="8.1" fill="#e5c7f2"/><path d="M66.1,35.4 L68.2,36.4 L69.9,37.9 L71.1,39.7 L71.8,41.8 L71.9,43.9 L71.5,46.0 L70.6,47.8 L69.3,49.4 L67.6,50.5 L65.7,51.2 L63.7,51.3 L61.8,50.9 L60.1,50.0 L58.7,48.8 L57.7,47.3 L57.1,45.5 L57.0,43.7 L57.3,42.0 L58.1,40.4 L59.3,39.1 L60.7,38.2 L62.2,37.7 L63.9,37.6 L65.4,38.0 L66.8,38.7 L68.0,39.7 L68.8,41.0 L69.3,42.4 L69.3,43.9 L69.0,45.3 L68.4,46.5 L67.4,47.5 L66.3,48.2 L65.0,48.6 L63.7,48.7 L62.5,48.4 L61.4,47.8 L60.6,47.0 L59.9,46.0 L59.6,44.9 L59.6,43.7 L59.9,42.7 L60.4,41.8 L61.1,41.0 L62.0,40.5 L62.9,40.3 L63.8,40.2 L64.7,40.5 L65.5,40.9 L66.1,41.5 L66.5,42.3 L66.7,43.1 L66.7,43.8 L66.5,44.5 L66.1,45.2 L65.6,45.6 L65.0,45.9 L64.4,46.1 L63.8,46.0 L63.2,45.8 L62.8,45.5 L62.4,45.1 L62.2,44.7 L62.2,44.2 L62.2,43.8 L62.4,43.4 L62.6,43.1 L62.9,42.9 L63.2,42.8 L63.5,42.8 L63.8,42.9 L64.0,43.0 L64.2,43.2 L64.2,43.4"/><circle cx="26.4" cy="0.8" r="8.8" fill="#e5c7f2"/><circle cx="26.4" cy="0.8" r="8.8"/><circle cx="26.4" cy="0.8" r="6.2"/><circle cx="26.4" cy="0.8" r="3.6"/><circle cx="26.4" cy="110.8" r="8.8" fill="#e5c7f2"/><circle cx="26.4" cy="110.8" r="8.8"/><circle cx="26.4" cy="110.8" r="6.2"/><circle cx="26.4" cy="110.8" r="3.6"/><circle cx="-3.0" cy="20.9" r="7.6" fill="#e5c7f2"/><circle cx="-3.0" cy="20.9" r="7.6"/><circle cx="-3.0" cy="20.9" r="5.0"/><circle cx="-3.0" cy="20.9" r="2.4"/><circle cx="107.0" cy="20.9" r="7.6" fill="#e5c7f2"/><circle cx="107.0" cy="20.9" r="7.6"/><circle cx="107.0" cy="20.9" r="5.0"/><circle cx="107.0" cy="20.9" r="2.4"/><circle cx="40.7" cy="14.8" r="10.5" fill="#e5c7f2"/><path d="M51.8,15.6 L51.1,18.4 L49.8,21.0 L47.8,23.0 L45.4,24.5 L42.7,25.3 L40.0,25.3 L37.3,24.7 L35.0,23.4 L33.0,21.5 L31.7,19.2 L30.9,16.7 L30.9,14.2 L31.5,11.7 L32.7,9.5 L34.5,7.7 L36.6,6.4 L38.9,5.7 L41.4,5.7 L43.7,6.3 L45.7,7.4 L47.4,9.0 L48.6,11.0 L49.2,13.2 L49.2,15.4 L48.7,17.6 L47.6,19.5 L46.1,21.0 L44.2,22.1 L42.2,22.7 L40.1,22.7 L38.2,22.2 L36.4,21.2 L35.0,19.8 L34.0,18.1 L33.5,16.2 L33.5,14.3 L34.0,12.5 L34.9,10.9 L36.2,9.6 L37.7,8.7 L39.4,8.3 L41.2,8.3 L42.8,8.7 L44.3,9.6 L45.4,10.7 L46.2,12.2 L46.6,13.7 L46.6,15.3 L46.2,16.7 L45.4,18.0 L44.4,19.1 L43.1,19.8 L41.7,20.1 L40.3,20.1 L39.0,19.7 L37.9,19.0 L37.0,18.1 L36.4,17.0 L36.1,15.7 L36.1,14.5 L36.4,13.4 L37.1,12.4 L37.9,11.6 L38.9,11.1 L39.9,10.8 L41.0,10.9 L42.0,11.2 L42.8,11.7 L43.5,12.5 L43.9,13.3 L44.1,14.2 L44.0,15.1 L43.7,15.9 L43.3,16.6 L42.7,17.1 L42.0,17.4 L41.2,17.6 L40.5,17.5 L39.9,17.3 L39.3,16.9 L38.9,16.4 L38.7,15.8 L38.6,15.2 L38.7,14.7 L38.9,14.2 L39.2,13.8 L39.6,13.6 L40.0,13.4 L40.4,13.4 L40.8,13.5 L41.1,13.7 L41.3,13.9 L41.5,14.2 L41.5,14.4 L41.5,14.7 L41.4,14.9 L41.3,15.0"/><circle cx="58.2" cy="5.4" r="6.3" fill="#e5c7f2"/><path d="M54.1,11.0 L52.9,9.6 L52.1,8.1 L51.7,6.4 L51.8,4.7 L52.3,3.1 L53.2,1.7 L54.4,0.6 L55.8,-0.1 L57.4,-0.5 L58.9,-0.4 L60.3,0.1 L61.6,0.9 L62.5,2.0 L63.2,3.3 L63.5,4.6 L63.4,6.0 L62.9,7.3 L62.2,8.4 L61.2,9.2 L60.1,9.8 L58.9,10.0 L57.7,9.9 L56.6,9.5 L55.7,8.9 L54.9,8.0 L54.5,7.0 L54.3,6.0 L54.4,5.0 L54.7,4.0 L55.3,3.2 L56.0,2.6 L56.9,2.3 L57.8,2.1 L58.6,2.2 L59.4,2.5 L60.0,3.0 L60.5,3.6 L60.8,4.3 L60.9,5.0 L60.8,5.7 L60.5,6.3 L60.1,6.8 L59.6,7.2 L59.1,7.4 L58.5,7.4 L58.0,7.3 L57.6,7.1 L57.2,6.8 L57.0,6.4 L56.9,6.0 L56.9,5.6 L57.0,5.3 L57.2,5.0 L57.4,4.8 L57.7,4.7 L57.9,4.7 L58.1,4.7 L58.3,4.8"/><circle cx="58.2" cy="115.4" r="6.3" fill="#e5c7f2"/><path d="M54.1,121.0 L52.9,119.6 L52.1,118.1 L51.7,116.4 L51.8,114.7 L52.3,113.1 L53.2,111.7 L54.4,110.6 L55.8,109.9 L57.4,109.5 L58.9,109.6 L60.3,110.1 L61.6,110.9 L62.5,112.0 L63.2,113.3 L63.5,114.6 L63.4,116.0 L62.9,117.3 L62.2,118.4 L61.2,119.2 L60.1,119.8 L58.9,120.0 L57.7,119.9 L56.6,119.5 L55.7,118.9 L54.9,118.0 L54.5,117.0 L54.3,116.0 L54.4,115.0 L54.7,114.0 L55.3,113.2 L56.0,112.6 L56.9,112.3 L57.8,112.1 L58.6,112.2 L59.4,112.5 L60.0,113.0 L60.5,113.6 L60.8,114.3 L60.9,115.0 L60.8,115.7 L60.5,116.3 L60.1,116.8 L59.6,117.2 L59.1,117.4 L58.5,117.4 L58.0,117.3 L57.6,117.1 L57.2,116.8 L57.0,116.4 L56.9,116.0 L56.9,115.6 L57.0,115.3 L57.2,115.0 L57.4,114.8 L57.7,114.7 L57.9,114.7 L58.1,114.7 L58.3,114.8"/><path fill="#e5c7f2" d="M100.2,18.4 Q103.6,29.3 93.9,35.3 Q90.6,24.4 100.2,18.4 Z"/><path fill="none" d="M99.5,20.5 Q100.2,28.0 94.7,33.3 Q94.0,25.7 99.5,20.5 Z"/><path d="M100.2,18.4 L93.9,35.3"/><path fill="#e5c7f2" d="M103.5,92.4 Q105.5,98.5 100.1,102.0 Q98.0,95.9 103.5,92.4 Z"/><path d="M103.5,92.4 L100.1,102.0"/><path fill="#e5c7f2" d="M8.4,37.1 A10.8,10.8 0 0 1 7.6,58.8 Z"/><path d="M8.3,39.7 A8.2,8.2 0 0 1 7.7,56.2"/><path d="M8.2,42.3 A5.6,5.6 0 0 1 7.8,53.6"/><path d="M8.1,44.9 A3.0,3.0 0 0 1 7.9,51.0"/><path fill="#e5c7f2" d="M118.4,37.1 A10.8,10.8 0 0 1 117.6,58.8 Z"/><path d="M118.3,39.7 A8.2,8.2 0 0 1 117.7,56.2"/><path d="M118.2,42.3 A5.6,5.6 0 0 1 117.8,53.6"/><path d="M118.1,44.9 A3.0,3.0 0 0 1 117.9,51.0"/><path fill="#e5c7f2" d="M25.5,-3.0 Q28.1,10.2 15.9,16.1 Q13.3,2.9 25.5,-3.0 Z"/><path fill="none" d="M24.5,-1.1 Q24.8,8.6 16.9,14.2 Q16.6,4.5 24.5,-1.1 Z"/><path fill="none" d="M23.5,0.9 Q21.6,7.0 17.9,12.2 Q19.8,6.1 23.5,0.9 Z"/><path d="M25.5,-3.0 L15.9,16.1"/><path fill="#e5c7f2" d="M25.5,107.0 Q28.1,120.2 15.9,126.1 Q13.3,112.9 25.5,107.0 Z"/><path fill="none" d="M24.5,108.9 Q24.8,118.6 16.9,124.2 Q16.6,114.5 24.5,108.9 Z"/><path fill="none" d="M23.5,110.9 Q21.6,117.0 17.9,122.2 Q19.8,116.1 23.5,110.9 Z"/><path d="M25.5,107.0 L15.9,126.1"/><path fill="#e5c7f2" d="M64.1,62.3 A9.8,9.8 0 0 1 53.8,45.8 Z"/><path d="M62.7,60.1 A7.2,7.2 0 0 1 55.1,48.0"/><path d="M61.3,57.9 A4.6,4.6 0 0 1 56.5,50.2"/><path d="M59.9,55.7 A2.0,2.0 0 0 1 57.9,52.4"/><circle cx="37.2" cy="29.7" r="7.5" fill="#e5c7f2"/><path d="M44.5,26.2 L45.0,28.3 L45.0,30.3 L44.5,32.3 L43.4,34.0 L42.0,35.4 L40.3,36.4 L38.5,36.9 L36.6,36.8 L34.8,36.3 L33.2,35.4 L31.9,34.1 L31.1,32.5 L30.6,30.8 L30.7,29.1 L31.1,27.5 L32.0,26.1 L33.2,24.9 L34.6,24.2 L36.1,23.8 L37.7,23.8 L39.1,24.3 L40.4,25.0 L41.4,26.1 L42.1,27.4 L42.4,28.7 L42.4,30.1 L42.0,31.4 L41.3,32.5 L40.3,33.4 L39.2,34.0 L38.0,34.3 L36.8,34.2 L35.7,33.9 L34.7,33.2 L33.9,32.4 L33.5,31.4 L33.2,30.4 L33.3,29.3 L33.6,28.4 L34.2,27.6 L34.9,26.9 L35.7,26.5 L36.6,26.4 L37.5,26.4 L38.2,26.7 L38.9,27.2 L39.4,27.8 L39.7,28.5 L39.8,29.2 L39.7,29.9 L39.5,30.5 L39.1,31.0 L38.6,31.4 L38.1,31.6 L37.5,31.7 L37.0,31.6 L36.6,31.4 L36.2,31.1 L36.0,30.7 L35.8,30.3 L35.8,29.9 L35.9,29.6 L36.1,29.3 L36.3,29.1 L36.6,29.0 L36.8,28.9 L37.1,29.0 L37.2,29.1"/><path fill="#e5c7f2" d="M60.0,-1.4 A10.6,10.6 0 0 1 80.8,3.4 Z"/><path d="M62.6,-0.8 A8.0,8.0 0 0 1 78.2,2.8"/><path d="M65.1,-0.2 A5.4,5.4 0 0 1 75.7,2.2"/><path d="M67.6,0.4 A2.8,2.8 0 0 1 73.2,1.7"/><path fill="#e5c7f2" d="M60.0,108.6 A10.6,10.6 0 0 1 80.8,113.4 Z"/><path d="M62.6,109.2 A8.0,8.0 0 0 1 78.2,112.8"/><path d="M65.1,109.8 A5.4,5.4 0 0 1 75.7,112.2"/><path d="M67.6,110.4 A2.8,2.8 0 0 1 73.2,111.7"/><circle cx="7.4" cy="56.3" r="9.7" fill="#e5c7f2"/><circle cx="7.4" cy="56.3" r="9.7"/><circle cx="7.4" cy="56.3" r="7.1"/><circle cx="7.4" cy="56.3" r="4.5"/><circle cx="7.4" cy="56.3" r="1.9"/><circle cx="117.4" cy="56.3" r="9.7" fill="#e5c7f2"/><circle cx="117.4" cy="56.3" r="9.7"/><circle cx="117.4" cy="56.3" r="7.1"/><circle cx="117.4" cy="56.3" r="4.5"/><circle cx="117.4" cy="56.3" r="1.9"/><path fill="#e5c7f2" d="M45.3,36.5 Q41.3,43.2 33.9,41.0 Q37.9,34.4 45.3,36.5 Z"/><path fill="none" d="M43.3,37.3 Q40.0,39.8 36.0,40.2 Q39.2,37.8 43.3,37.3 Z"/><path d="M45.3,36.5 L33.9,41.0"/></g></pattern></defs><rect width="920" height="512" rx="6" fill="url(#pt)"/></svg>
<!-- nav panel -->
<div class="panel" style="left:66px;top:33px;width:799px;height:40px;border-radius:0 0 3px 3px"></div>
<div class="nav"></div>
<div class="btn" style="left:75.5px;width:59.5px;background:#efefef;border-color:#efefef"></div>
<div class="btn" style="left:140.5px;width:77px"></div>
<div class="btn" style="left:222px;width:75.5px"></div>
<div class="btn" style="left:302.5px;width:82.5px"></div>
<div class="btn" style="left:390.5px;width:50px"></div>
<div class="btn" style="left:445.2px;width:73px"></div>
<!-- main panel -->
<div class="panel" style="left:66px;top:100px;width:799px;height:440px;border-radius:3px 3px 0 0"></div>
<div class="abs" style="left:66px;top:136px;width:799px;height:1px;background:#e6e6e6"></div>
<!-- add widget button -->
<div class="abs" style="left:749.3px;top:145.7px;width:106.4px;height:20px;border:1.3px solid #73a7e0;border-radius:3px;background:#fff;overflow:hidden">
  <div class="abs" style="right:0;top:0;width:20px;height:100%;background:#efefef"></div>
</div>
<div class="outer"></div>
<div class="w" style="left:80.5px;top:180.3px"><div class="hd"></div><div class="ft"></div></div>
<div class="w" style="left:468.2px;top:180.3px"><div class="hd"></div><div class="ft"></div></div>
<div class="w" style="left:80.5px;top:355.8px"><div class="hd"></div><div class="ft"></div></div>
<div class="w" style="left:468.2px;top:355.8px"><div class="hd"></div><div class="ft"></div></div>
<div class="tag" style="left:90.3px;top:327.8px;width:53.5px"></div>
<div class="tag" style="left:477.9px;top:327.9px;width:36.8px"></div>
<div class="tag" style="left:90.3px;top:502.7px;width:53.5px"></div>
<div class="tag" style="left:477.9px;top:502.8px;width:36.8px"></div>
<!-- purple account bar -->
<div class="abs" style="left:760px;top:7px;width:157.3px;height:18.5px;background:#6234cc;border-radius:2px 1px 1px 2px;border-bottom:1px solid #6c3ade"></div>
<div class="abs" style="left:842px;top:10px;width:1px;height:12.5px;background:#7d55d8"></div>
<svg class="abs" style="left:0;top:0" width="927" height="532" viewBox="0 0 927 532">
<path d="M119.10,481.60 A76.5,76.5 0 0 1 245.87,423.93 L221.49,451.90 A39.4,39.4 0 0 0 156.20,481.60 Z" fill="#d9292a"/><path d="M245.87,423.93 A76.5,76.5 0 0 1 272.10,481.60 L235.00,481.60 A39.4,39.4 0 0 0 221.49,451.90 Z" fill="#22b543"/><line x1="245.87" y1="423.93" x2="221.49" y2="451.90" stroke="#fff" stroke-width="1.6"/><path d="M506.60,481.70 A76.6,76.6 0 0 1 632.96,423.47 L608.80,451.75 A39.4,39.4 0 0 0 543.80,481.70 Z" fill="#d9292a"/><path d="M632.96,423.47 A76.6,76.6 0 0 1 659.80,481.70 L622.60,481.70 A39.4,39.4 0 0 0 608.80,451.75 Z" fill="#22b543"/><line x1="632.96" y1="423.47" x2="608.80" y2="451.75" stroke="#fff" stroke-width="1.6"/>
</svg>
<svg class="abs" style="left:0;top:0" width="927" height="532" viewBox="0 0 927 532">
<!-- logo -->
<g fill="none" stroke="#f4f4f4" stroke-width="1.7" stroke-linecap="round" stroke-linejoin="round">
 <path d="M13.7,14.8 C14.4,12.6 18.4,12.1 19.0,14.6 L19.0,22.8 M19.0,17.5 C16.2,17.3 13.5,17.8 13.5,20.3 C13.5,23.4 17.8,23.3 19.0,21"/>
 <path d="M22.6,13 L22.6,22.4 M22.6,15.5 C23.3,12.6 29.2,11.6 29.2,16 L29.2,21"/>
 <path d="M38.3,13.6 C36.6,11.8 32.5,12.2 32.5,17.4 C32.5,23 36.8,23.3 38.5,21.7"/>
 <path d="M41.2,8.3 L41.2,21 M41.2,15.5 C42,12.4 48.2,11.8 48.2,16.2 L48.2,22.4"/>
 <path d="M54,12.5 C50.5,12.5 50.9,15 50.9,17.6 C50.9,20.3 50.5,22.8 54,22.8 C57.2,22.8 56.9,20.3 56.9,17.6 C56.9,15 57.3,12.5 54,12.5 Z"/>
 <path d="M59.5,12.5 L59.5,22.3 M59.5,16 C59.8,12.9 62.5,12.2 65.3,12.9"/>
 <path d="M67.5,20.3 L74.4,15.8 C73.8,13.3 72.3,12.2 70.6,12.2 C68.4,12.2 67,14 67,17.6 C67,21.8 68.6,23 70.8,23 C72.3,23 73.5,22.4 74.5,21.3"/>
</g>
<!-- rocket -->
<g>
 <path d="M763.9,13.9 C760.5,16.5 759.2,21.5 761.5,25.5 C763,28.5 765.8,30.8 768.4,31.9 C765.6,29 763.6,25.5 763.4,21.5 C763.3,18.5 764.8,16.2 766.8,15 Z" fill="#ffffff"/>
 <path d="M766.8,15 C764.6,16.8 763.3,19.3 763.4,22 C763.5,25.3 765,28.5 767.8,31 C766,27.5 765,24.5 765.3,21.5 C765.6,19.5 766.5,18 768.2,17 Z" fill="#ffe800"/>
 <path d="M761,14.4 L775.6,3.3 Q777.3,2.5 777.4,3.3 L777.2,4.8 L768.4,17.2 C766.5,15.6 764,14.6 761,14.4 Z" fill="#e4291b" stroke="#b5150c" stroke-width=".7" stroke-linejoin="round"/>
 <circle cx="772.8" cy="7.8" r="1.25" fill="#ffd400"/>
 <circle cx="770.6" cy="10" r="1.25" fill="#ffd400"/>
 <circle cx="768.3" cy="12.2" r="1.25" fill="#ffd400"/>
</g>
<!-- crown -->
<path d="M777.3,14.3 L779.2,16 L780.7,13.6 L782.2,16 L784.2,14.3 L783.4,18.1 L778.1,18.1 Z M778.1,18.6 L783.4,18.6 L783.4,19.2 L778.1,19.2 Z" fill="#cdbcf2"/>
<circle cx="780.7" cy="12.3" r="1.1" fill="#cdbcf2"/>
<!-- caret -->
<path d="M907.3,15.3 L911,15.3 L909.15,17.4 Z" fill="#cdbcf2"/>
<!-- nav overview gauge icon -->
<g transform="translate(83.6,49.3) scale(0.51)">
 <path d="M3.2,13.7 C1.1,12.3 0,10.2 0,8.3 C0,3.7 3.8,0 8.4,0 C13,0 16.8,3.7 16.8,8.3 C16.8,10.2 15.7,12.3 13.6,13.7 Z" fill="#8c8c8c"/>
 <g fill="#e9e9e9">
  <circle cx="3.6" cy="4.4" r="1.1"/>
  <circle cx="12.8" cy="4.4" r="1.1"/>
  <path d="M9.3,4.2 L11,4.8 L8.9,10.8 L7.1,10.3 Z"/>
  <circle cx="7.9" cy="10.9" r="2"/>
 </g>
</g>
<!-- tags icon -->
<g fill="#1cb2a9">
 <path d="M147.9,49.3 Q147.9,48.7 148.5,48.7 L152.4,48.7 L156.2,52.6 L152.4,56.6 L147.9,52.2 Z"/>
 <path d="M153.6,48.7 L154.7,48.7 L158.2,52.6 L154.4,56.6 L153.7,56 L157,52.6 Z"/>
 <circle cx="149.6" cy="50.5" r=".75" fill="#fff"/>
</g>
<!-- briefcase -->
<g fill="#1cb2a9">
 <rect x="230.4" y="50.6" width="8.4" height="5.6" rx="0.8"/>
 <path d="M232.6,50.8 L232.6,49.2 Q232.6,48.8 233,48.8 L236.2,48.8 Q236.6,48.8 236.6,49.2 L236.6,50.8 L235.6,50.8 L235.6,49.7 L233.6,49.7 L233.6,50.8 Z"/>
</g>
<!-- bug -->
<g fill="#1cb2a9">
 <ellipse cx="315.5" cy="50.3" rx="2.1" ry="1.5"/>
 <path d="M312.9,51.8 L318.1,51.8 L318.1,54.5 Q318.1,56.6 315.5,56.8 Q312.9,56.6 312.9,54.5 Z"/>
 <path d="M311.9,51.4 L313.2,52.6 M319.1,51.4 L317.8,52.6 M311.7,54.1 L313,54.1 M319.3,54.1 L318,54.1 M312,56.7 L313.3,55.5 M319,56.7 L317.7,55.5" stroke="#1cb2a9" stroke-width="1" fill="none"/>
 <path d="M315.5,52.6 L315.5,56" stroke="#fff" stroke-width=".6"/>
</g>
<!-- bell -->
<g fill="#1cb2a9">
 <path d="M402.8,49.3 C400.9,49.3 400.5,51 400.5,52.5 C400.5,54 400.1,54.8 399.5,55.4 L406.1,55.4 C405.5,54.8 405.1,54 405.1,52.5 C405.1,51 404.7,49.3 402.8,49.3 Z"/>
 <circle cx="402.8" cy="48.9" r=".6"/>
 <path d="M401.8,55.6 Q402.8,57.2 403.8,55.6 Z"/>
</g>
<!-- gear -->
<g>
 <circle cx="457.5" cy="52.8" r="2.9" fill="#1cb2a9"/>
 <g stroke="#1cb2a9" stroke-width="1.7">
  <line x1="457.5" y1="48.9" x2="457.5" y2="56.7"/>
  <line x1="454.1" y1="50.85" x2="460.9" y2="54.75"/>
  <line x1="454.1" y1="54.75" x2="460.9" y2="50.85"/>
 </g>
 <circle cx="457.5" cy="52.8" r="1.1" fill="#fff"/>
</g>
<!-- heading dashboard icon -->
<g transform="translate(74.8,111)">
 <path d="M3.2,13.7 C1.1,12.3 0,10.2 0,8.3 C0,3.7 3.8,0 8.4,0 C13,0 16.8,3.7 16.8,8.3 C16.8,10.2 15.7,12.3 13.6,13.7 Z" fill="#1bb0a8"/>
 <g fill="#fff">
  <rect x="7.4" y="1.8" width="1.8" height="1.4" rx=".5"/>
  <circle cx="3.6" cy="4.4" r="1"/>
  <circle cx="12.8" cy="4.4" r="1"/>
  <rect x="0.9" y="8.2" width="1.3" height="2" rx=".5"/>
  <rect x="14" y="8.2" width="1.3" height="2" rx=".5"/>
  <path d="M9.5,4.6 L10.8,5 L8.7,10.8 L7.3,10.4 Z"/>
  <circle cx="7.9" cy="10.9" r="1.75"/>
 </g>
</g>
<!-- edit icon -->
<g fill="none" stroke="#222" stroke-linecap="round">
 <path d="M298.6,153.6 L294.6,153.6 Q294,153.6 294,154.2 L294,157.9 Q294,158.4 294.6,158.4 L298.4,158.4 Q299,158.4 299,157.9 L299,156.6" stroke-width="1.25"/>
 <path d="M296.5,156.5 L300.6,152.9" stroke-width="1.9"/>
</g>
<!-- info icon -->
<circle cx="411.5" cy="155.4" r="4.4" fill="#f0650b"/>
<rect x="410.8" y="154.3" width="1.4" height="3.6" fill="#fff"/>
<rect x="410.8" y="152.4" width="1.4" height="1.2" fill="#fff"/>
<!-- plus -->
<path d="M845.2,152.8 L845.2,159.8 M841.7,156.3 L848.7,156.3" stroke="#2f7fd3" stroke-width="1.9"/>
<!-- resize handles -->
<g fill="none" stroke="#555" stroke-width="1.1">
 <path d="M460.3,345.2 L460.3,347.6 L457.4,347.6"/>
 <path d="M848,345.2 L848,347.6 L845.1,347.6"/>
 <path d="M460.3,520.5 L460.3,522.9 L457.4,522.9"/>
 <path d="M848,520.5 L848,522.9 L845.1,522.9"/>
</g>
</svg>

<svg class="abs" style="left:0;top:0" width="927" height="532" viewBox="0 0 927 532">
<!-- shadows -->
<ellipse cx="784" cy="125.6" rx="29" ry="2.4" fill="#d3d3d3"/>
<ellipse cx="839" cy="124" rx="16" ry="1.7" fill="#d3d3d3"/>
<!-- laptop lid -->
<path d="M765.4,97.3 L783.8,98.3 L791.6,117.7 L780.8,125.3 Z" fill="#e5e5e5"/>
<path d="M765.4,97.3 L780.8,125.3" stroke="#cdcdcd" stroke-width="1.6" stroke-linecap="round"/>
<!-- screen chart -->
<path d="M773.6,105.2 L775.4,107.4 L777,106.2 L778.8,108.8 L780.4,107.8 L782.2,110 L784.4,109.4 L788.2,114.4 L780.8,118 Z" fill="#3b87dc"/>
<path d="M770.8,103.4 L772.2,101.2 L775.4,107.4 L773.9,106.4 Z M776.2,105.4 L777.5,103.3 L780.4,107.8 L778.8,108.8 Z M781.6,107.8 L783,105.8 L785.6,109.8 L784.4,109.4 L782.2,110 Z" fill="#e63b26"/>
<path d="M773.2,105.6 L774.4,104.8 L775.4,107.4 Z M778.6,108 L779.5,107 L780.4,107.8 L778.8,108.8 Z M783.6,108.6 L784.6,108 L784.4,109.4 Z" fill="#f7a11e"/>
<!-- laptop base -->
<path d="M780.8,125.3 L791.6,117.7 L805.6,117.7 L812.6,125.7 L812.4,126.6 L781.2,126.6 Z" fill="#dadada"/>
<path d="M781.2,126.2 L812.6,126.2" stroke="#c4c4c4" stroke-width="1"/>
<!-- robot tail -->
<circle cx="852.4" cy="97.6" r="2.3" fill="#5d6e6e"/><path d="M852.4,94 L853.3,95.5 L855.2,95 L854.6,96.9 L856.1,97.9 L854.5,98.9 L854.9,100.8 L853,100.3 L852,101.7 L851,100.2 L849.3,100.5 L849.7,98.7 L848.6,97.5 L850.2,96.6 L850.2,94.8 L851.7,95.4 Z" fill="#5d6e6e"/>
<path d="M849,99 L851,98" stroke="#5d6e6e" stroke-width="2"/>
<!-- legs -->
<path d="M831.6,111 L830.2,122.5 M847,111 L847,122.5" stroke="#5d6e6e" stroke-width="2.4" stroke-linecap="round"/>
<path d="M826,123.6 Q826.5,121.6 829,121.6 L831.4,121.6 L831.8,124 Z M841,123.6 Q841.5,121.6 844,121.6 L848.2,121.6 L848.6,124 Z" fill="#5d6e6e"/>
<!-- body -->
<path d="M823,89.5 C826,86.5 834,84.5 841.5,84.2 C846.5,84.5 849.3,90 849.5,96 L849.6,107 C849.6,110 848,111.6 845,111.6 L830,111.6 C827.5,111.6 826.5,109.5 825.8,106 L823.2,95.5 Z" fill="#d2eae6"/>
<path d="M846.5,86.5 C848.6,89 849.5,92.5 849.5,96 L849.6,107 C849.6,110 848,111.6 845,111.6 L843.5,111.6 C846,109 846.7,105 846.7,98 Z" fill="#c4e0dc"/>
<!-- head -->
<g transform="rotate(-7 823 81)">
<path d="M809.5,79.5 C809.5,74 813.5,70.6 820.5,70.4 L828,70.6 C834,71 837.8,74.5 837.8,79.5 C837.8,84 835,86.5 830.5,88.8 L823,91.6 C818,93 812.5,92.4 810.3,88.2 C809.4,86 809.4,82.5 809.5,79.5 Z" fill="#d7ecea"/>
<path d="M811.2,80 C811.2,75.6 814.2,73.2 819.8,73 L825,73.2 C829,73.6 830.8,76.3 830.6,80.4 L830.2,84.6 C829.8,88 827.5,89.6 823.6,90.2 L817,90.8 C813.5,91 811.6,89.2 811.3,85.8 Z" fill="#eaf5f4"/>
<path d="M823.4,91.4 L833.6,84.8 M824.3,92.3 L826.3,96.4" stroke="#a9c9c5" stroke-width=".6" fill="none"/>
<circle cx="820.9" cy="83.3" r="1.15" fill="#3c4848"/>
<circle cx="815.7" cy="86.8" r="1.15" fill="#3c4848"/>
</g>
<!-- antenna -->
<path d="M806.3,68.7 C809.5,68.6 812.8,69.6 815.2,72.4" stroke="#9dc0bd" stroke-width=".8" fill="none"/>
<circle cx="806.1" cy="68.7" r="1.1" fill="#8fb3b0"/>
<!-- magnifier -->
<ellipse cx="812.1" cy="97.8" rx="7.4" ry="8.3" transform="rotate(-20 812.1 97.8)" fill="rgba(255,255,255,.25)" stroke="#2d7ee0" stroke-width="2.4"/>
<path d="M817.9,105.4 L826.3,117.2" stroke="#2d7ee0" stroke-width="1.9" stroke-linecap="round"/>
<!-- arm -->
<path d="M840.4,87.6 C842.6,92 842.2,98 838.2,102.5 C834.5,106.2 829.5,107.8 825,108.8" stroke="#5d6e6e" stroke-width="2.6" fill="none" stroke-linecap="round"/>
<circle cx="823.8" cy="109.2" r="2.4" fill="#5d6e6e"/>
</svg>

<span class="t" style="left:93.74px;top:49.10px;font-size:8.5px;line-height:8.5px;font-weight:700;color:#333;transform:scaleX(0.8711);-webkit-text-stroke:0.05px #333;">Overview</span>
<span class="t" style="left:159.37px;top:49.10px;font-size:8.5px;line-height:8.5px;font-weight:700;color:#2f7fd3;transform:scaleX(0.7851);-webkit-text-stroke:0.05px #2f7fd3;">Image Analysis</span>
<span class="t" style="left:241.17px;top:49.10px;font-size:8.5px;line-height:8.5px;font-weight:700;color:#2f7fd3;transform:scaleX(0.7893);-webkit-text-stroke:0.05px #2f7fd3;">Policy Bundles</span>
<span class="t" style="left:322.14px;top:49.10px;font-size:8.5px;line-height:8.5px;font-weight:700;color:#2f7fd3;transform:scaleX(0.8060);-webkit-text-stroke:0.05px #2f7fd3;">Security Reports</span>
<span class="t" style="left:409.46px;top:49.10px;font-size:8.5px;line-height:8.5px;font-weight:700;color:#2f7fd3;transform:scaleX(0.7927);-webkit-text-stroke:0.05px #2f7fd3;">Events</span>
<span class="t" style="left:464.05px;top:49.10px;font-size:8.5px;line-height:8.5px;font-weight:700;color:#2f7fd3;transform:scaleX(0.8194);-webkit-text-stroke:0.05px #2f7fd3;">Configuration</span>
<span class="t" style="left:787.70px;top:11.70px;font-size:8.5px;line-height:8.5px;font-weight:400;color:#d6c8f6;transform:scaleX(0.8711);-webkit-text-stroke:0.1px #d6c8f6;">Account</span>
<span class="t" style="left:816.64px;top:11.70px;font-size:8.5px;line-height:8.5px;font-weight:700;color:#f6f2ff;transform:scaleX(0.8217);-webkit-text-stroke:0.05px #f6f2ff;">admin</span>
<span class="t" style="left:846.34px;top:11.70px;font-size:8.5px;line-height:8.5px;font-weight:400;color:#d6c8f6;transform:scaleX(0.8617);-webkit-text-stroke:0.1px #d6c8f6;">Username</span>
<span class="t" style="left:881.84px;top:11.70px;font-size:8.5px;line-height:8.5px;font-weight:700;color:#f6f2ff;transform:scaleX(0.8217);-webkit-text-stroke:0.05px #f6f2ff;">admin</span>
<span class="t" style="left:99.99px;top:110.60px;font-size:15px;line-height:15px;font-weight:400;color:#222;transform:scaleX(1.0098);-webkit-text-stroke:0.15px #222;">Overview</span>
<span class="t" style="left:74.85px;top:152.30px;font-size:8.5px;line-height:8.5px;font-weight:400;color:#333;transform:scaleX(1.0108);-webkit-text-stroke:0.15px #333;">Your widgets are shown below. Hover over one and click</span>
<span class="t" style="left:304.90px;top:152.30px;font-size:8.5px;line-height:8.5px;font-weight:400;color:#333;transform:scaleX(1.0438);-webkit-text-stroke:0.15px #333;">to modify their properties.</span>
<span class="t" style="left:761.10px;top:151.58px;font-size:9px;line-height:9px;font-weight:400;color:#2f7fd3;transform:scaleX(0.9167);-webkit-text-stroke:0.15px #2f7fd3;">Add New Widget</span>
<span class="t" style="left:90.00px;top:189.52px;font-size:11.2px;line-height:11.2px;font-weight:400;color:#262626;transform:scaleX(0.9723);-webkit-text-stroke:0.15px #262626;">Vulnerabilities</span>
<span class="t" style="left:476.90px;top:189.52px;font-size:11.2px;line-height:11.2px;font-weight:400;color:#262626;transform:scaleX(0.9636);-webkit-text-stroke:0.15px #262626;">Vulnerabilities - Historical Tags Included</span>
<span class="t" style="left:89.05px;top:364.52px;font-size:11.2px;line-height:11.2px;font-weight:400;color:#262626;transform:scaleX(0.9499);-webkit-text-stroke:0.15px #262626;">Policy Evaluations</span>
<span class="t" style="left:476.54px;top:364.52px;font-size:11.2px;line-height:11.2px;font-weight:400;color:#262626;transform:scaleX(0.9538);-webkit-text-stroke:0.15px #262626;">Policy Evaluations - Historical Tags Included</span>
<span class="t" style="left:89.40px;top:202.57px;font-size:8.3px;line-height:8.3px;font-weight:400;color:#a9a9a9;transform:scaleX(0.9272);-webkit-text-stroke:0.15px #a9a9a9;">Last Collected: A minute ago</span>
<span class="t" style="left:89.40px;top:377.47px;font-size:8.3px;line-height:8.3px;font-weight:400;color:#a9a9a9;transform:scaleX(0.9272);-webkit-text-stroke:0.15px #a9a9a9;">Last Collected: A minute ago</span>
<span class="t" style="left:476.90px;top:202.57px;font-size:8.3px;line-height:8.3px;font-weight:400;color:#a9a9a9;transform:scaleX(0.9272);-webkit-text-stroke:0.15px #a9a9a9;">Last Collected: A minute ago</span>
<span class="t" style="left:476.90px;top:377.47px;font-size:8.3px;line-height:8.3px;font-weight:400;color:#a9a9a9;transform:scaleX(0.9272);-webkit-text-stroke:0.15px #a9a9a9;">Last Collected: A minute ago</span>
<span class="t" style="left:125.79px;top:245.90px;font-size:36.5px;line-height:36.5px;font-weight:400;color:#d4141c;transform:scaleX(1.0579);-webkit-text-stroke:0.7px #fff;">6</span>
<span class="t" style="left:220.78px;top:245.90px;font-size:36.5px;line-height:36.5px;font-weight:400;color:#f26a10;transform:scaleX(0.9798);-webkit-text-stroke:0.7px #fff;">567</span>
<span class="t" style="left:344.18px;top:245.90px;font-size:36.5px;line-height:36.5px;font-weight:400;color:#fbae17;transform:scaleX(1.0063);-webkit-text-stroke:0.7px #fff;">2247</span>
<span class="t" style="left:514.15px;top:245.90px;font-size:36.5px;line-height:36.5px;font-weight:400;color:#d4141c;transform:scaleX(1.0228);-webkit-text-stroke:0.7px #fff;">6</span>
<span class="t" style="left:607.26px;top:245.90px;font-size:36.5px;line-height:36.5px;font-weight:400;color:#f26a10;transform:scaleX(1.0038);-webkit-text-stroke:0.7px #fff;">567</span>
<span class="t" style="left:731.18px;top:245.90px;font-size:36.5px;line-height:36.5px;font-weight:400;color:#fbae17;transform:scaleX(1.0063);-webkit-text-stroke:0.7px #fff;">2273</span>
<span class="t" style="left:117.37px;top:281.75px;font-size:8.8px;line-height:8.8px;font-weight:700;color:#151515;transform:scaleX(0.9386);-webkit-text-stroke:0.05px #151515;">CRITICAL</span>
<span class="t" style="left:238.63px;top:281.75px;font-size:8.8px;line-height:8.8px;font-weight:700;color:#151515;transform:scaleX(1.0290);-webkit-text-stroke:0.05px #151515;">HIGH</span>
<span class="t" style="left:366.32px;top:281.75px;font-size:8.8px;line-height:8.8px;font-weight:700;color:#151515;transform:scaleX(1.0534);-webkit-text-stroke:0.05px #151515;">MEDIUM</span>
<span class="t" style="left:504.17px;top:281.75px;font-size:8.8px;line-height:8.8px;font-weight:700;color:#151515;transform:scaleX(0.9510);-webkit-text-stroke:0.05px #151515;">CRITICAL</span>
<span class="t" style="left:625.92px;top:281.75px;font-size:8.8px;line-height:8.8px;font-weight:700;color:#151515;transform:scaleX(1.0481);-webkit-text-stroke:0.05px #151515;">HIGH</span>
<span class="t" style="left:753.10px;top:281.75px;font-size:8.8px;line-height:8.8px;font-weight:700;color:#151515;transform:scaleX(1.0910);-webkit-text-stroke:0.05px #151515;">MEDIUM</span>
<span class="t" style="left:346.53px;top:413.57px;font-size:26.5px;line-height:26.5px;font-weight:400;color:#d4141c;transform:scaleX(1.0263);-webkit-text-stroke:0.2px #fff;">209</span>
<span class="t" style="left:347.24px;top:448.57px;font-size:26.5px;line-height:26.5px;font-weight:400;color:#1fb043;transform:scaleX(1.0125);-webkit-text-stroke:0.2px #fff;">78</span>
<span class="t" style="left:732.93px;top:413.57px;font-size:26.5px;line-height:26.5px;font-weight:400;color:#d4141c;transform:scaleX(1.0994);-webkit-text-stroke:0.2px #fff;">211</span>
<span class="t" style="left:733.41px;top:448.57px;font-size:26.5px;line-height:26.5px;font-weight:400;color:#1fb043;transform:scaleX(1.0790);-webkit-text-stroke:0.2px #fff;">80</span>
<span class="t" style="left:398.67px;top:422.25px;font-size:8.8px;line-height:8.8px;font-weight:700;color:#151515;transform:scaleX(0.9678);-webkit-text-stroke:0.05px #151515;">FAIL</span>
<span class="t" style="left:383.50px;top:456.75px;font-size:8.8px;line-height:8.8px;font-weight:700;color:#151515;transform:scaleX(0.9180);-webkit-text-stroke:0.05px #151515;">PASS</span>
<span class="t" style="left:786.16px;top:422.25px;font-size:8.8px;line-height:8.8px;font-weight:700;color:#151515;transform:scaleX(0.9787);-webkit-text-stroke:0.05px #151515;">FAIL</span>
<span class="t" style="left:771.30px;top:456.75px;font-size:8.8px;line-height:8.8px;font-weight:700;color:#151515;transform:scaleX(0.9090);-webkit-text-stroke:0.05px #151515;">PASS</span>
<span class="t" style="left:95.75px;top:332.37px;font-size:7px;line-height:7px;font-weight:700;color:#555;transform:scaleX(0.9824);-webkit-text-stroke:0.05px #555;">Current Tags</span>
<span class="t" style="left:483.06px;top:332.57px;font-size:7px;line-height:7px;font-weight:700;color:#555;transform:scaleX(0.9538);-webkit-text-stroke:0.05px #555;">All Tags</span>
<span class="t" style="left:95.75px;top:507.37px;font-size:7px;line-height:7px;font-weight:700;color:#555;transform:scaleX(0.9824);-webkit-text-stroke:0.05px #555;">Current Tags</span>
<span class="t" style="left:483.06px;top:507.57px;font-size:7px;line-height:7px;font-weight:700;color:#555;transform:scaleX(0.9538);-webkit-text-stroke:0.05px #555;">All Tags</span>
<div class="abs" style="left:0;top:531px;width:927px;height:1px;background:rgba(0,0,0,.45)"></div>
</body></html>
